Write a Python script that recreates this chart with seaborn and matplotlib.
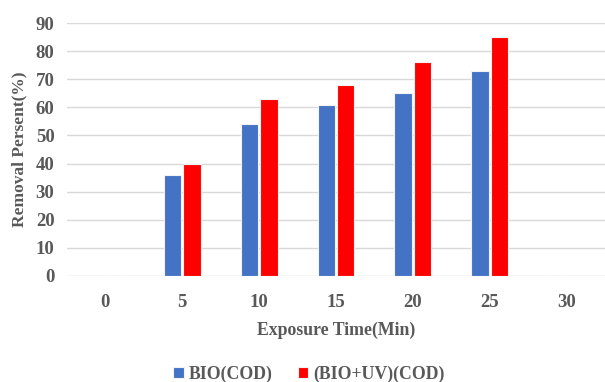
import matplotlib
matplotlib.use("Agg")
import matplotlib.pyplot as plt
import seaborn as sns
import pandas as pd

times = ["0", "5", "10", "15", "20", "25", "30"]
bio = [0, 36, 54, 61, 65, 73, 0]
bio_uv = [0, 40, 63, 68, 76, 85, 0]
series_names = ["BIO(COD)", "(BIO+UV)(COD)"]
colors = ["#4472C4", "#FF0000"]
yticks = [0, 10, 20, 30, 40, 50, 60, 70, 80, 90]

df = pd.DataFrame({
    "time": times * 2,
    "value": bio + bio_uv,
    "series": [series_names[0]] * len(times) + [series_names[1]] * len(times),
})

sns.set_style("white")
plt.rcParams["font.family"] = ["Liberation Serif", "DejaVu Serif"]
plt.rcParams["font.weight"] = "bold"
txt = "#595959"

fig = plt.figure(figsize=(6.05, 3.82), dpi=100)
ax = fig.add_axes([67 / 605, 1 - 276 / 382, 538 / 605, 253 / 382])

sns.barplot(data=df, x="time", y="value", hue="series", order=times,
            hue_order=series_names, palette=colors, saturation=1, width=0.51, gap=0.12,
            edgecolor="#F2F2F2", linewidth=0.8, ax=ax, legend=True)

ax.set_ylim(0, 90)
ax.set_xlim(-0.5, 6.5)
ax.set_yticks(yticks)
ax.yaxis.grid(True, color="#D9D9D9", linewidth=1.0)
ax.set_axisbelow(True)
for s in ax.spines.values():
    s.set_visible(False)
ax.tick_params(axis="both", length=0, labelsize=13.5, colors=txt, pad=9)
ax.tick_params(axis="x", pad=13)
for lab in ax.get_xticklabels() + ax.get_yticklabels():
    lab.set_fontweight("bold")
ax.set_xlabel("Exposure Time(Min)", fontsize=12.8, fontweight="bold", color=txt, labelpad=8)
ax.set_ylabel("Removal Persent(%)", fontsize=12.5, fontweight="bold", color=txt, labelpad=6)

ax.legend_.remove()
handles, labels = ax.get_legend_handles_labels()
leg = fig.legend(handles, labels, loc="center", bbox_to_anchor=(309 / 605, 1 - 374 / 382),
                 ncol=2, frameon=False, fontsize=12.8, handlelength=0.6, handleheight=0.6,
                 handletextpad=0.3, columnspacing=1.4)
for t in leg.get_texts():
    t.set_color(txt)
    t.set_fontweight("bold")

fig.savefig("out.png", dpi=100)
